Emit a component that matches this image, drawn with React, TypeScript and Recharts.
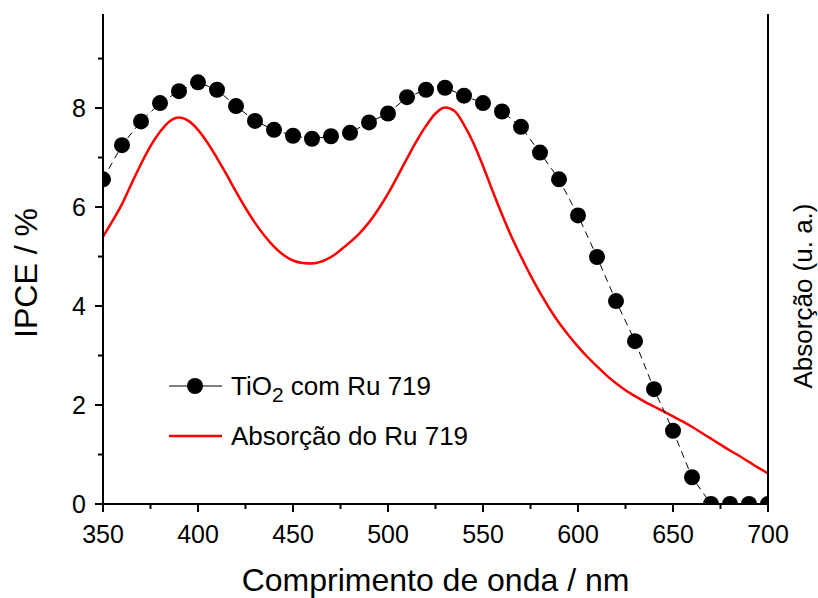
import { LineChart, Line, XAxis, YAxis, Legend } from 'recharts'

// IPCE (dots), every 10 nm
const ipceNm = [
  350, 360, 370, 380, 390, 400, 410, 420, 430, 440, 450, 460, 470, 480, 490, 500, 510, 520,
  530, 540, 550, 560, 570, 580, 590, 600, 610, 620, 630, 640, 650, 660, 670, 680, 690, 700,
]
const ipceValues = [
  6.56, 7.25, 7.73, 8.1, 8.34, 8.52, 8.37, 8.04, 7.74, 7.56, 7.44, 7.38, 7.43, 7.5, 7.71, 7.89,
  8.22, 8.37, 8.41, 8.25, 8.1, 7.93, 7.62, 7.1, 6.56, 5.83, 4.99, 4.1, 3.29, 2.32, 1.48, 0.54,
  0, 0, 0, 0,
]

// dye absorption (red line), every 5 nm, arbitrary units
const absNm = [
  350, 355, 360, 365, 370, 375, 380, 385, 390, 395, 400, 405, 410, 415, 420, 425, 430, 435, 440,
  445, 450, 455, 460, 465, 470, 475, 480, 485, 490, 495, 500, 505, 510, 515, 520, 525, 530, 535,
  540, 545, 550, 555, 560, 565, 570, 575, 580, 585, 590, 595, 600, 605, 610, 615, 620, 625, 630,
  635, 640, 645, 650, 655, 660, 665, 670, 675, 680, 685, 690, 695, 700,
]
const absValues = [
  5.4, 5.72, 6.06, 6.47, 6.87, 7.23, 7.52, 7.73, 7.81, 7.74, 7.56, 7.3, 6.99, 6.66, 6.31, 5.98,
  5.68, 5.42, 5.2, 5.03, 4.92, 4.87, 4.86, 4.9, 4.99, 5.13, 5.29, 5.47, 5.69, 5.96, 6.27, 6.62,
  6.98, 7.33, 7.64, 7.89, 8.01, 7.94, 7.66, 7.29, 6.83, 6.33, 5.85, 5.4, 5.0, 4.62, 4.27, 3.95,
  3.66, 3.41, 3.18, 2.97, 2.78, 2.6, 2.44, 2.3, 2.18, 2.07, 1.97, 1.87, 1.77, 1.67, 1.56, 1.44,
  1.32, 1.2, 1.08, 0.97, 0.85, 0.73, 0.62,
]

const xTicks = [350, 375, 400, 425, 450, 475, 500, 525, 550, 575, 600, 625, 650, 675, 700]
const yTicks = [0, 1, 2, 3, 4, 5, 6, 7, 8, 9]

const ipceData = ipceNm.map((nm, i) => ({ nm, ipce: ipceValues[i] }))
const absData = absNm.map((nm, i) => ({ nm, abs: absValues[i] }))

const FONT = '"Liberation Sans", Arial, sans-serif'

function XTick({ x, y, payload }: any) {
  const major = payload.value % 50 === 0
  const ay = y - 12
  return (
    <g>
      <line x1={x} x2={x} y1={ay} y2={ay + (major ? 8 : 5)} stroke="#000" strokeWidth={2} />
      {major && (
        <text x={x} y={ay + 39} textAnchor="middle" fontSize={25} fontFamily={FONT} fill="#000">
          {payload.value}
        </text>
      )}
    </g>
  )
}

function YTick({ x, y, payload }: any) {
  const major = payload.value % 2 === 0
  const ax = x + 12
  return (
    <g>
      <line x1={ax} x2={ax - (major ? 8 : 5)} y1={y} y2={y} stroke="#000" strokeWidth={2} />
      {major && (
        <text x={ax - 17} y={y + 9} textAnchor="end" fontSize={25} fontFamily={FONT} fill="#000">
          {payload.value}
        </text>
      )}
    </g>
  )
}

function LegendBox() {
  const row = { display: 'flex', alignItems: 'center', height: 50, fontSize: 26, fontFamily: FONT, color: '#000' }
  return (
    <div>
      <div style={row}>
        <svg width={58} height={20} style={{ marginRight: 5 }}>
          <line x1={1} x2={54} y1={10} y2={10} stroke="#000" strokeWidth={1} />
          <circle cx={27} cy={10} r={8} fill="#000" />
        </svg>
        <span>
          TiO<span style={{ fontSize: 21, position: 'relative', top: 7 }}>2</span> com Ru 719
        </span>
      </div>
      <div style={row}>
        <svg width={58} height={20} style={{ marginRight: 5 }}>
          <line x1={1} x2={54} y1={10} y2={10} stroke="#ff0000" strokeWidth={2.5} />
        </svg>
        <span>Absorção do Ru 719</span>
      </div>
    </div>
  )
}

export default function App() {
  return (
    <div style={{ position: 'absolute', left: 0, top: 0, background: '#fff' }}>
      <LineChart width={818} height={598} margin={{ top: 14, right: 0, bottom: 0, left: 0 }}>
        <XAxis
          dataKey="nm"
          type="number"
          domain={[350, 700]}
          ticks={xTicks}
          interval={0}
          height={94}
          tickSize={8}
          tickMargin={4}
          tickLine={false}
          tick={<XTick />}
          axisLine={{ stroke: '#000', strokeWidth: 2 }}
          allowDataOverflow
          label={{
            value: 'Comprimento de onda / nm',
            position: 'center',
            dy: 29,
            style: { fontSize: 32, fontFamily: FONT, fill: '#000' },
          }}
        />
        <XAxis
          xAxisId="top"
          orientation="top"
          dataKey="nm"
          type="number"
          domain={[350, 700]}
          height={0}
          tick={false}
          tickLine={false}
          axisLine={{ stroke: '#000', strokeWidth: 2 }}
        />
        <YAxis
          domain={[0, 9.9]}
          ticks={yTicks}
          interval={0}
          width={103}
          tickSize={8}
          tickMargin={4}
          tickLine={false}
          tick={<YTick />}
          axisLine={{ stroke: '#000', strokeWidth: 2 }}
          allowDataOverflow
          label={{
            value: 'IPCE / %',
            angle: -90,
            position: 'center',
            dx: -26,
            dy: 14,
            style: { fontSize: 32, fontFamily: FONT, fill: '#000' },
          }}
        />
        <YAxis
          yAxisId="abs"
          orientation="right"
          domain={[0, 9.9]}
          width={50}
          tick={false}
          tickLine={false}
          axisLine={{ stroke: '#000', strokeWidth: 2 }}
          allowDataOverflow
          label={{
            value: 'Absorção (u. a.)',
            angle: -90,
            position: 'center',
            dx: 10,
            dy: 37,
            style: { fontSize: 26, fontFamily: FONT, fill: '#000' },
          }}
        />
        <Legend
          layout="horizontal"
          verticalAlign="middle"
          content={<LegendBox />}
          wrapperStyle={{ left: 168, top: 361, width: 'auto' }}
        />
        <Line
          yAxisId="abs"
          data={absData}
          dataKey="abs"
          type="monotone"
          stroke="#ff0000"
          strokeWidth={2.5}
          dot={false}
          isAnimationActive={false}
        />
        <Line
          data={ipceData}
          dataKey="ipce"
          type="linear"
          stroke="#000"
          strokeWidth={1}
          strokeDasharray="7 5"
          dot={{ r: 8, fill: '#000', stroke: 'none' }}
          isAnimationActive={false}
        />
      </LineChart>
    </div>
  )
}
